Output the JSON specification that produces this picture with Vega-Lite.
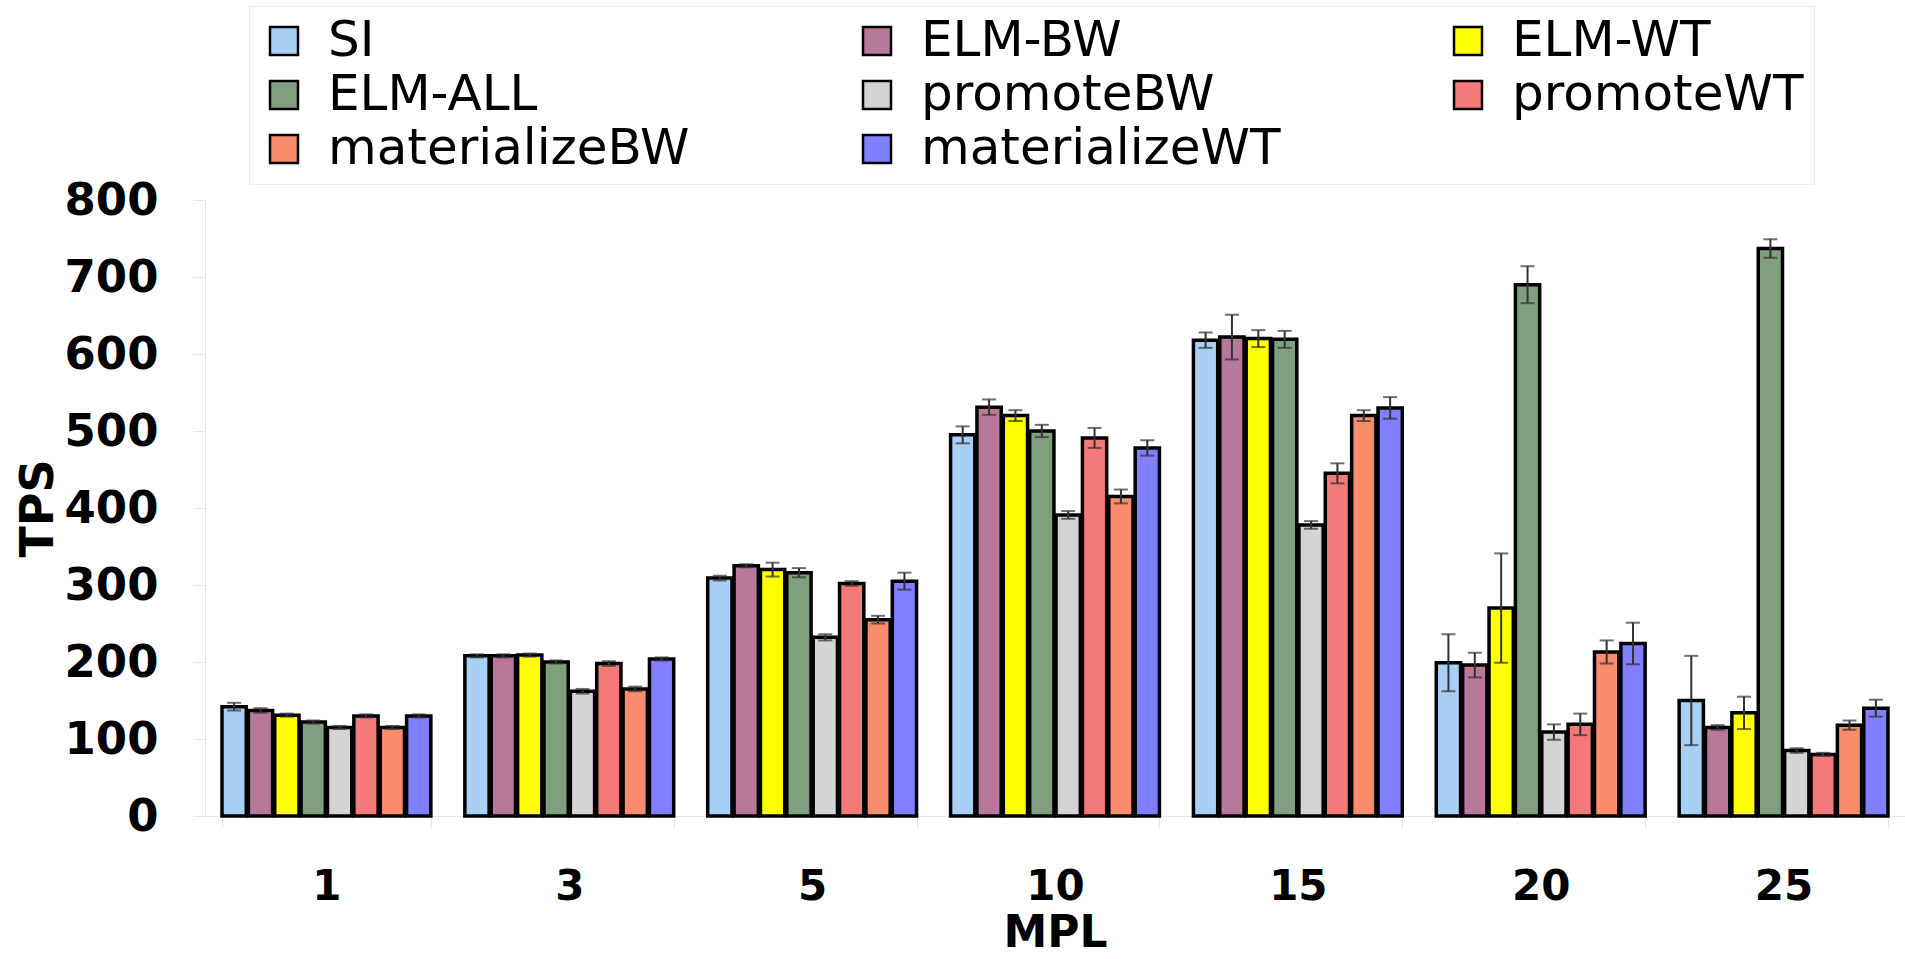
{
 "$schema": "https://vega.github.io/schema/vega-lite/v6.json",
 "width": 1700,
 "height": 616,
 "autosize": {"type": "none"},
 "padding": {"left": 205, "top": 200, "right": 0, "bottom": 143},
 "background": "white",
 "config": {"view": {"stroke": null}, "font": "DejaVu Sans"},
 "data": {"values": [
  {"mpl":"1","series":"SI","tps":142,"lo":137,"hi":147},
  {"mpl":"1","series":"ELM-BW","tps":137,"lo":134,"hi":140},
  {"mpl":"1","series":"ELM-WT","tps":131,"lo":129,"hi":133},
  {"mpl":"1","series":"ELM-ALL","tps":122,"lo":120,"hi":124},
  {"mpl":"1","series":"promoteBW","tps":115,"lo":113,"hi":117},
  {"mpl":"1","series":"promoteWT","tps":130,"lo":128,"hi":132},
  {"mpl":"1","series":"materializeBW","tps":115,"lo":113,"hi":117},
  {"mpl":"1","series":"materializeWT","tps":130,"lo":128,"hi":132},
  {"mpl":"3","series":"SI","tps":208,"lo":206,"hi":210},
  {"mpl":"3","series":"ELM-BW","tps":208,"lo":206,"hi":210},
  {"mpl":"3","series":"ELM-WT","tps":209,"lo":207,"hi":211},
  {"mpl":"3","series":"ELM-ALL","tps":200,"lo":198,"hi":202},
  {"mpl":"3","series":"promoteBW","tps":162,"lo":159,"hi":165},
  {"mpl":"3","series":"promoteWT","tps":198,"lo":195,"hi":201},
  {"mpl":"3","series":"materializeBW","tps":165,"lo":162,"hi":168},
  {"mpl":"3","series":"materializeWT","tps":204,"lo":202,"hi":206},
  {"mpl":"5","series":"SI","tps":309,"lo":306,"hi":312},
  {"mpl":"5","series":"ELM-BW","tps":325,"lo":323,"hi":327},
  {"mpl":"5","series":"ELM-WT","tps":320,"lo":311,"hi":329},
  {"mpl":"5","series":"ELM-ALL","tps":316,"lo":310,"hi":322},
  {"mpl":"5","series":"promoteBW","tps":232,"lo":228,"hi":236},
  {"mpl":"5","series":"promoteWT","tps":302,"lo":299,"hi":305},
  {"mpl":"5","series":"materializeBW","tps":255,"lo":250,"hi":260},
  {"mpl":"5","series":"materializeWT","tps":305,"lo":294,"hi":316},
  {"mpl":"10","series":"SI","tps":495,"lo":484,"hi":506},
  {"mpl":"10","series":"ELM-BW","tps":531,"lo":521,"hi":541},
  {"mpl":"10","series":"ELM-WT","tps":520,"lo":513,"hi":527},
  {"mpl":"10","series":"ELM-ALL","tps":500,"lo":492,"hi":508},
  {"mpl":"10","series":"promoteBW","tps":391,"lo":386,"hi":396},
  {"mpl":"10","series":"promoteWT","tps":491,"lo":478,"hi":504},
  {"mpl":"10","series":"materializeBW","tps":415,"lo":406,"hi":424},
  {"mpl":"10","series":"materializeWT","tps":478,"lo":468,"hi":488},
  {"mpl":"15","series":"SI","tps":618,"lo":608,"hi":628},
  {"mpl":"15","series":"ELM-BW","tps":622,"lo":593,"hi":651},
  {"mpl":"15","series":"ELM-WT","tps":620,"lo":609,"hi":631},
  {"mpl":"15","series":"ELM-ALL","tps":619,"lo":608,"hi":630},
  {"mpl":"15","series":"promoteBW","tps":378,"lo":373,"hi":383},
  {"mpl":"15","series":"promoteWT","tps":445,"lo":432,"hi":458},
  {"mpl":"15","series":"materializeBW","tps":520,"lo":513,"hi":527},
  {"mpl":"15","series":"materializeWT","tps":530,"lo":516,"hi":544},
  {"mpl":"20","series":"SI","tps":199,"lo":162,"hi":236},
  {"mpl":"20","series":"ELM-BW","tps":196,"lo":180,"hi":212},
  {"mpl":"20","series":"ELM-WT","tps":270,"lo":199,"hi":341},
  {"mpl":"20","series":"ELM-ALL","tps":690,"lo":666,"hi":714},
  {"mpl":"20","series":"promoteBW","tps":109,"lo":99,"hi":119},
  {"mpl":"20","series":"promoteWT","tps":119,"lo":105,"hi":133},
  {"mpl":"20","series":"materializeBW","tps":213,"lo":198,"hi":228},
  {"mpl":"20","series":"materializeWT","tps":224,"lo":197,"hi":251},
  {"mpl":"25","series":"SI","tps":150,"lo":92,"hi":208},
  {"mpl":"25","series":"ELM-BW","tps":115,"lo":112,"hi":118},
  {"mpl":"25","series":"ELM-WT","tps":134,"lo":113,"hi":155},
  {"mpl":"25","series":"ELM-ALL","tps":737,"lo":725,"hi":749},
  {"mpl":"25","series":"promoteBW","tps":85,"lo":82,"hi":88},
  {"mpl":"25","series":"promoteWT","tps":80,"lo":78,"hi":82},
  {"mpl":"25","series":"materializeBW","tps":118,"lo":112,"hi":124},
  {"mpl":"25","series":"materializeWT","tps":140,"lo":129,"hi":151}
 ]},
 "encoding": {
  "x": {"field": "mpl", "type": "ordinal", "sort": ["1","3","5","10","15","20","25"],
        "scale": {"paddingInner": 0.14, "paddingOuter": 0.07},
        "title": "MPL",
        "axis": {"labelAngle": 0, "domainColor": "#e6e6e6", "tickColor": "#e6e6e6", "tickSize": 12, "tickBand": "extent",
                 "labelPadding": 38, "labelFontSize": 42, "labelFont": "DejaVu Sans", "labelFontWeight": "bold", "labelColor": "black",
                 "titleFontSize": 44, "titleFont": "DejaVu Sans", "titleFontWeight": "bold", "titleColor": "black", "titlePadding": 4}},
  "xOffset": {"field": "series", "type": "nominal",
        "sort": ["SI","ELM-BW","ELM-WT","ELM-ALL","promoteBW","promoteWT","materializeBW","materializeWT"],
        "scale": {"paddingInner": 0.08}}
 },
 "layer": [
  {"mark": {"type": "bar", "stroke": "black", "strokeWidth": 3.5},
   "encoding": {
    "y": {"field": "tps", "type": "quantitative", "title": "TPS", "scale": {"domain": [0, 800]},
          "axis": {"values": [0,100,200,300,400,500,600,700,800], "grid": false, "domainColor": "#e6e6e6", "tickColor": "#e6e6e6", "tickSize": 12,
                   "labelPadding": 35, "labelFontSize": 45, "labelFont": "DejaVu Sans", "labelFontWeight": "bold", "labelColor": "black",
                   "titleFontSize": 46, "titleFont": "DejaVu Sans", "titleFontWeight": "bold", "titleColor": "black", "titlePadding": 2}},
    "color": {"field": "series", "type": "nominal",
      "scale": {"domain": ["SI","ELM-ALL","materializeBW","ELM-BW","promoteBW","materializeWT","ELM-WT","promoteWT"],
                "range": ["#a8d0f7","#7f9f7f","#f98c6c","#b7789a","#d4d4d4","#7f7fff","#ffff00","#f47a7a"]},
      "legend": {"orient": "none", "legendX": 44, "legendY": -194, "columns": 3, "title": null,
                 "symbolType": "square", "symbolSize": 784, "symbolStrokeColor": "black", "symbolStrokeWidth": 2.5,
                 "labelFontSize": 50, "labelFont": "DejaVu Sans", "labelColor": "black", "labelOffset": 19,
                 "columnPadding": 162, "rowPadding": 4, "padding": 10, "strokeColor": "#ececec", "labelLimit": 600}}
   }},
  {"mark": {"type": "rule", "color": "#333333", "strokeWidth": 2},
   "encoding": {"y": {"field": "lo", "type": "quantitative", "title": "TPS"}, "y2": {"field": "hi"}}},
  {"mark": {"type": "tick", "color": "#333333", "thickness": 2, "size": 14},
   "encoding": {"y": {"field": "lo", "type": "quantitative", "title": "TPS"}}},
  {"mark": {"type": "tick", "color": "#333333", "thickness": 2, "size": 14},
   "encoding": {"y": {"field": "hi", "type": "quantitative", "title": "TPS"}}}
 ]
}
